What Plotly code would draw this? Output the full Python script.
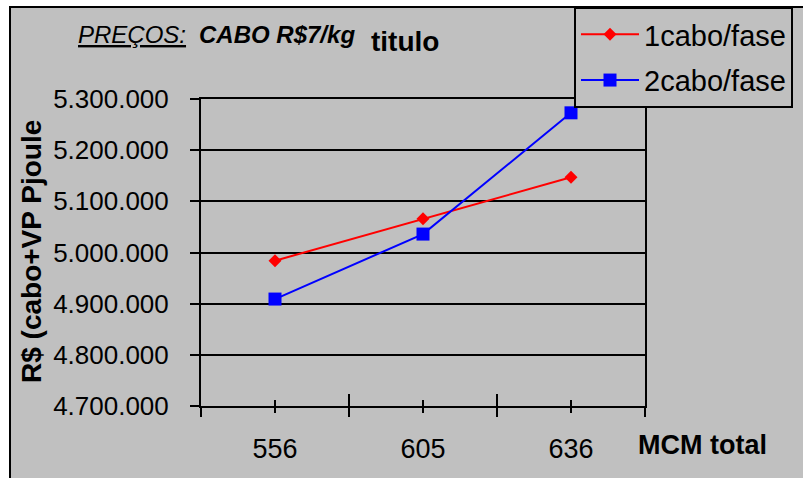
import plotly.graph_objects as go

# Cable cost + present value of Joule losses, by total cross-section (MCM)
categories = ["556", "605", "636"]
um_cabo = [4984000, 5066000, 5147000]      # 1 cable per phase
dois_cabos = [4909000, 5036000, 5273000]   # 2 cables per phase
y_ticks = [4700000, 4800000, 4900000, 5000000, 5100000, 5200000, 5300000]

FONT = "Liberation Sans, Arial, sans-serif"
GRAY = "#c0c0c0"

W, H = 803, 478
L, R, T, B = 201, 645, 99, 406   # plot area in pixels


def px(x):
    return (x - L) / (R - L)


def py(y):
    return (B - y) / (B - T)


fig = go.Figure()

fig.add_trace(go.Scatter(
    x=categories, y=um_cabo, name="1cabo/fase", mode="lines+markers",
    line=dict(color="#ff0000", width=2),
    marker=dict(symbol="diamond", size=10, color="#ff0000"),
    legendgroup="a",
))
fig.add_trace(go.Scatter(
    x=categories, y=dois_cabos, name="2cabo/fase", mode="lines+markers",
    line=dict(color="#0000ff", width=2),
    marker=dict(symbol="square", size=13, color="#0000ff"),
    legendgroup="b",
))

# empty carriers so the tick-only overlay axes get drawn
for ax in ("x2", "x3"):
    fig.add_trace(go.Scatter(x=[], y=[], xaxis=ax, yaxis="y",
                             showlegend=False, hoverinfo="skip"))

n = len(categories)
bounds = [i - 0.5 for i in range(n + 1)]
centers = list(range(n))
tick_common = dict(
    overlaying="x", anchor="y", type="linear", range=[-0.5, n - 0.5],
    showgrid=False, zeroline=False, showticklabels=False, showline=False,
    tickmode="array", tickvals=bounds, tickwidth=2, tickcolor="black",
)

fig.update_layout(
    width=W, height=H,
    margin=dict(l=L, r=W - R, t=T, b=H - B, pad=0, autoexpand=False),
    paper_bgcolor="white",
    plot_bgcolor="rgba(0,0,0,0)",
    separators=",.",
    font=dict(family=FONT, color="black"),
    showlegend=True,
    legend=dict(
        xref="container", yref="container",
        x=574 / W, y=1 - 7 / H, xanchor="left", yanchor="top",
        bgcolor=GRAY, bordercolor="black", borderwidth=2,
        font=dict(size=29, family=FONT, color="black"),
        traceorder="grouped", tracegroupgap=5, itemwidth=58,
    ),
    xaxis=dict(
        type="category", categoryorder="array", categoryarray=categories,
        range=[-0.5, n - 0.5],
        showline=True, linewidth=2, linecolor="black", mirror=True,
        ticks="", showgrid=False, zeroline=False,
        tickfont=dict(size=27, family=FONT, color="black"),
        ticklabelstandoff=18,
    ),
    xaxis2=dict(
        **tick_common, ticks="outside", ticklen=10,
        minor=dict(tickmode="array", tickvals=centers, ticks="outside",
                   ticklen=6, tickwidth=2, tickcolor="black", showgrid=False),
    ),
    xaxis3=dict(
        **tick_common, ticks="inside", ticklen=12,
        minor=dict(tickmode="array", tickvals=centers, ticks="inside",
                   ticklen=6, tickwidth=2, tickcolor="black", showgrid=False),
    ),
    yaxis=dict(
        range=[y_ticks[0], y_ticks[-1]], tickmode="array", tickvals=y_ticks,
        tickformat=",d",
        showline=True, linewidth=2, linecolor="black", mirror=True,
        showgrid=True, gridcolor="black", gridwidth=2, zeroline=False,
        ticks="outside", ticklen=9, tickwidth=2, tickcolor="black",
        tickfont=dict(size=26, family=FONT, color="black"),
        ticklabelstandoff=16,
    ),
    shapes=[
        dict(type="rect", xref="paper", yref="paper", layer="below",
             x0=px(10), x1=px(W + 40), y0=py(H + 40), y1=py(7),
             fillcolor=GRAY, line=dict(color="black", width=2)),
    ],
    annotations=[
        dict(text="<i><span style='text-decoration:underline'>PREÇOS:</span></i>",
             x=px(76), y=py(34.5), xref="paper", yref="paper",
             xanchor="left", yanchor="middle", showarrow=False,
             font=dict(size=24, family=FONT, color="black")),
        dict(text="<b><i>CABO R$7/kg</i></b>",
             x=px(197), y=py(34.5), xref="paper", yref="paper",
             xanchor="left", yanchor="middle", showarrow=False,
             font=dict(size=24, family=FONT, color="black")),
        dict(text="<b>titulo</b>",
             x=px(369), y=py(42), xref="paper", yref="paper",
             xanchor="left", yanchor="middle", showarrow=False,
             font=dict(size=28, family=FONT, color="black")),
        dict(text="<b>R$ (cabo+VP Pjoule</b>",
             x=px(31), y=py(252), xref="paper", yref="paper",
             xanchor="center", yanchor="middle", showarrow=False, textangle=-90,
             font=dict(size=28, family=FONT, color="black")),
        dict(text="<b>MCM total</b>",
             x=px(636), y=py(445), xref="paper", yref="paper",
             xanchor="left", yanchor="middle", showarrow=False,
             font=dict(size=27, family=FONT, color="black")),
    ],
)

fig.write_html("out.html")
